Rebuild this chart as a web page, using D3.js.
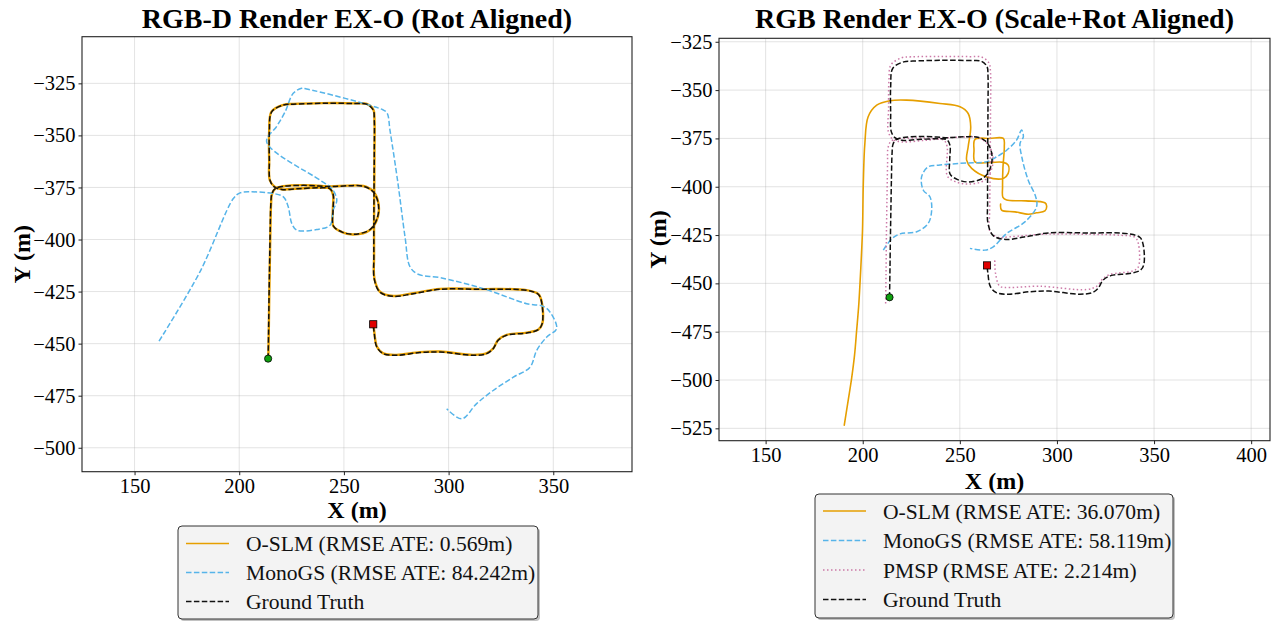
<!DOCTYPE html>
<html>
<head>
<meta charset="utf-8">
<script src="https://cdn.jsdelivr.net/npm/d3@7"></script>
<style>
  html, body { margin: 0; padding: 0; background: #fff; }
  svg { display: block; font-family: "Liberation Serif", "Times New Roman", serif; }
</style>
</head>
<body>
<script>
// ---- Trajectory data (X, Y in metres) ----
const groundTruth = [
  [213.8,-457.2],[214.0,-445],[214.2,-430],[214.5,-412],[214.8,-395],[215.1,-383],[215.6,-378],
  [217.2,-375.6],[221,-374.5],[230,-374.0],[238,-374.3],[244,-374.6],[252,-374.2],[259.3,-374.4],
  [264.0,-377.1],[266.4,-382.7],[266.1,-389.1],[262.5,-395.2],[254.5,-397.5],[248.9,-396.3],
  [245.0,-393.5],[244.8,-386],[244.9,-378.5],[243.2,-375.6],[238,-375.2],[228,-375.6],[220.3,-376.0],
  [216.6,-374.6],[214.7,-371.5],[214.4,-362],[214.4,-348],[215.5,-338.7],[221.1,-335.4],[225.8,-335.0],
  [240,-334.6],[255,-334.7],[260.9,-335.0],[264.0,-337.8],[264.5,-342.7],[264.5,-358],[264.4,-375],
  [264.3,-392],[264.3,-408],[264.5,-419],[267.2,-425.3],[273.6,-427.3],[283.1,-426.0],[295.9,-423.9],
  [315.0,-423.9],[337.3,-424.4],[342.8,-426.3],[344.4,-430.0],[344.7,-440.4],[342.8,-443.3],
  [337.3,-444.9],[327.7,-446.0],[323.7,-448.4],[321.3,-452.4],[318.2,-454.8],[311.8,-455.6],
  [295.9,-454.0],[286.3,-454.3],[275.2,-455.6],[268.8,-454.8],[265.7,-451.6],[264.5,-445.2],[264.0,-440.7]
];

// RGB-D run
const oslmRgbd = [
  [213.9,-457.0],[214.1,-445],[214.3,-430],[214.6,-412],[214.9,-395],[215.2,-383],[215.7,-378],
  [217.3,-375.5],[221,-374.4],[230,-373.9],[238,-374.2],[244,-374.5],[252,-374.1],[259.3,-374.3],
  [264.1,-377.0],[266.5,-382.7],[266.2,-389.1],[262.6,-395.3],[254.5,-397.6],[248.8,-396.3],
  [244.9,-393.5],[244.7,-386],[244.8,-378.5],[243.2,-375.5],[238,-375.1],[228,-375.5],[220.3,-375.9],
  [216.7,-374.5],[214.6,-371.5],[214.3,-362],[214.3,-348],[215.4,-338.6],[221.1,-335.3],[225.8,-334.9],
  [240,-334.5],[255,-334.6],[260.9,-334.9],[264.1,-337.7],[264.6,-342.7],[264.6,-358],[264.5,-375],
  [264.4,-392],[264.4,-408],[264.6,-419],[267.3,-425.2],[273.6,-427.1],[283.1,-425.8],[295.9,-423.7],
  [315.0,-423.8],[337.3,-424.3],[342.9,-426.2],[344.5,-430.0],[344.8,-440.3],[342.9,-443.2],
  [337.3,-444.7],[327.7,-445.8],[323.7,-448.2],[321.4,-452.2],[318.3,-454.6],[311.8,-455.4],
  [295.9,-453.8],[286.3,-454.1],[275.2,-455.4],[268.8,-454.7],[265.8,-451.5],[264.6,-445.2],[264.1,-440.8]
];
const monogsRgbd = [
  [161.7,-448.8],[181.3,-415.4],[197.2,-380.3],[200.4,-377.6],[205.2,-377.1],[216.3,-377.9],
  [221.1,-379.5],[223.4,-384.3],[225.1,-392.3],[227.5,-395.5],[237.0,-395.2],[243.4,-393.1],
  [244.9,-385.9],[246.6,-381.1],[244.2,-375.5],[238.6,-371.5],[213.1,-353.1],[218,-345.5],
  [221.9,-338.7],[225.8,-329.8],[229.8,-327.4],[232.2,-327.7],[268.8,-337.8],[270.7,-339.4],
  [272.0,-347.5],[275.6,-371.5],[279.2,-398.8],[281.6,-413.2],[285.5,-416.7],[295.9,-418.3],
  [316.6,-423.6],[337.3,-430.8],[345.2,-432.1],[348.4,-434.8],[351.6,-442.8],[346.9,-446.8],
  [342.1,-453.2],[338.9,-461.3],[330.9,-466.1],[321.3,-472.5],[313.4,-478.8],[306.3,-486.1],[299.1,-481.3]
];

// RGB run
const oslmRgb = [
  [190.5,-523.4],[192.6,-510],[194.3,-499],[195.8,-487],[196.9,-474],[197.9,-462],[198.6,-450],
  [199.4,-434],[199.9,-422],[200.3,-398.3],[201.1,-377.6],[202.8,-363.8],[207.2,-357.8],[214.0,-355.5],
  [222.6,-355.2],[239.8,-356.9],[250.1,-358.6],[254.3,-362.1],[255.6,-369.0],[254.3,-379.3],
  [253.5,-386.2],[256.1,-390.5],[263.8,-394.9],[272.4,-395.7],[274.9,-393.1],[274.9,-388.8],
  [272.4,-387.4],[265.5,-387.4],[257.8,-387.1],[257.3,-381.1],[257.8,-375.5],[265.5,-375.0],
  [272.4,-375.0],[272.9,-379.3],[272.2,-390],[272.0,-400],[272.2,-405.5],[274.1,-406.9],[284.0,-407.3],
  [293.8,-408.3],[294.7,-410.0],[293.8,-412.5],[289.5,-413.5],[285.2,-414.2],[278.4,-413.0],
  [271.5,-412.1],[271.0,-409]
];
const monogsRgb = [
  [210.6,-432.8],[214.9,-427.0],[219.2,-424.4],[227.8,-423.3],[233.7,-419.0],[235.5,-412.1],
  [234.6,-405.2],[231.2,-401.8],[230.3,-394.9],[233.7,-389.7],[239.8,-388.8],[250.1,-387.9],
  [256.9,-387.6],[263.8,-387.1],[269.0,-384.5],[274.1,-381.1],[279.2,-375.9],[281.8,-370.7],
  [282.7,-374.2],[281.0,-377.6],[282.0,-385],[285.2,-396.6],[289.0,-405],[289.5,-410.4],
  [283.5,-418.2],[274.1,-424.2],[267.2,-431.1],[262.9,-432.8],[255.2,-431.9]
];
const pmspRgb = [
  [211.8,-460.4],[212.0,-445],[212.2,-425],[212.5,-405],[212.8,-388],[213.0,-380],[214.5,-376.5],
  [218,-375.3],[228,-374.8],[238,-375.0],[245,-374.6],[253,-374.3],[259,-374.5],[264,-377.5],
  [266.8,-383],[266.6,-390],[263,-396.5],[254.5,-398.6],[248,-397.5],[243.6,-394.5],[243.4,-379],
  [241.5,-375.8],[232,-376],[220,-376.8],[215.5,-375.5],[213.2,-371.5],[213.3,-360],[213.5,-345],
  [214.5,-337],[220,-333.3],[225,-332.8],[240,-332.6],[255,-332.7],[261.5,-333],[265,-336],
  [265.8,-341],[265.8,-360],[265.7,-380],[265.5,-400],[265.3,-415],[265.0,-421.6],[266.4,-424.2],
  [269.8,-426.2],[275.8,-425.9],[294.7,-424.5],[315,-424.6],[332.4,-425.1],[340.2,-426.2],
  [341.9,-429.3],[341.9,-441.5],[339.3,-443.5],[327.3,-445.4],[323.8,-447.5],[320.4,-451.5],
  [315.3,-453.2],[291.2,-451.5],[275.8,-452.1],[270.6,-451.5],[268.4,-444.9],[268.0,-438.1]
];

// ---- Axis ticks and labels ----
const leftXTicks = [150, 200, 250, 300, 350];
const leftYTicks = [-325, -350, -375, -400, -425, -450, -475, -500];
const rightXTicks = [150, 200, 250, 300, 350, 400];
const rightYTicks = [-325, -350, -375, -400, -425, -450, -475, -500, -525];

const leftTitle = "RGB-D Render EX-O (Rot Aligned)";
const rightTitle = "RGB Render EX-O (Scale+Rot Aligned)";
const leftLegend = ["O-SLM (RMSE ATE: 0.569m)", "MonoGS (RMSE ATE: 84.242m)", "Ground Truth"];
const rightLegend = ["O-SLM (RMSE ATE: 36.070m)", "MonoGS (RMSE ATE: 58.119m)", "PMSP (RMSE ATE: 2.214m)", "Ground Truth"];

// ---- Styles ----
const STY = {
  oslm:   { color: "#E69F00", width: 1.6, dash: null },
  monogs: { color: "#56B4E9", width: 1.5, dash: "5.5,2.4" },
  pmsp:   { color: "#CC79A7", width: 1.5, dash: "1.5,2.5" },
  gt:     { color: "#111111", width: 1.5, dash: "5.5,2.4" }
};

const svg = d3.select("body").append("svg").attr("width", 1276).attr("height", 623);
const minus = d => (d < 0 ? "\u2212" : "") + Math.abs(d);

function panel(cfg) {
  const x = d3.scaleLinear().domain(cfg.xd).range([cfg.x0, cfg.x1]);
  const y = d3.scaleLinear().domain(cfg.yd).range([cfg.y0, cfg.y1]);
  const g = svg.append("g");
  const clipId = "clip" + cfg.id;
  svg.append("clipPath").attr("id", clipId).append("rect")
    .attr("x", cfg.x0).attr("y", cfg.y0).attr("width", cfg.x1 - cfg.x0).attr("height", cfg.y1 - cfg.y0);

  // grid
  g.append("g").selectAll("line").data(cfg.xt).join("line")
    .attr("x1", d => x(d)).attr("x2", d => x(d)).attr("y1", cfg.y0).attr("y2", cfg.y1)
    .attr("stroke", "#b0b0b0").attr("stroke-opacity", 0.35).attr("stroke-width", 1);
  g.append("g").selectAll("line").data(cfg.yt).join("line")
    .attr("y1", d => y(d)).attr("y2", d => y(d)).attr("x1", cfg.x0).attr("x2", cfg.x1)
    .attr("stroke", "#b0b0b0").attr("stroke-opacity", 0.35).attr("stroke-width", 1);

  // axes
  const ax = g.append("g").attr("transform", `translate(0,${cfg.y1})`)
    .call(d3.axisBottom(x).tickValues(cfg.xt).tickFormat(minus).tickSize(3.5).tickPadding(3));
  const ay = g.append("g").attr("transform", `translate(${cfg.x0},0)`)
    .call(d3.axisLeft(y).tickValues(cfg.yt).tickFormat(minus).tickSize(3.5).tickPadding(3));
  [ax, ay].forEach(a => {
    a.select(".domain").remove();
    a.selectAll("text").attr("font-family", "Liberation Serif").attr("font-size", 20.5).attr("fill", "#000");
    a.selectAll("line").attr("stroke", "#222");
  });

  // trajectories
  const line = d3.line().x(d => x(d[0])).y(d => y(d[1])).curve(d3.curveCatmullRom.alpha(0.5));
  const lines = g.append("g").attr("clip-path", `url(#${clipId})`);
  cfg.series.forEach(s => {
    lines.append("path").attr("d", line(s.data)).attr("fill", "none")
      .attr("stroke", s.style.color).attr("stroke-width", s.w || s.style.width)
      .attr("stroke-dasharray", s.style.dash).attr("stroke-linejoin", "round")
      .attr("stroke-linecap", s.style.dash ? "butt" : "round");
  });

  // start / end markers from ground truth
  const st = groundTruth[0], en = groundTruth[groundTruth.length - 1];
  g.append("circle").attr("cx", x(st[0])).attr("cy", y(st[1])).attr("r", 3.6)
    .attr("fill", "#10a010").attr("stroke", "#000").attr("stroke-width", 0.8);
  g.append("rect").attr("x", x(en[0]) - 3.6).attr("y", y(en[1]) - 3.6).attr("width", 7.2).attr("height", 7.2)
    .attr("fill", "#e00000").attr("stroke", "#000").attr("stroke-width", 0.8);

  // frame
  g.append("rect").attr("x", cfg.x0).attr("y", cfg.y0).attr("width", cfg.x1 - cfg.x0).attr("height", cfg.y1 - cfg.y0)
    .attr("fill", "none").attr("stroke", "#222").attr("stroke-width", 1.1);

  // titles & axis labels
  const cx = (cfg.x0 + cfg.x1) / 2;
  g.append("text").attr("x", cx).attr("y", 28).attr("text-anchor", "middle")
    .attr("font-weight", "bold").attr("font-size", 28).text(cfg.title);
  g.append("text").attr("x", cx).attr("y", cfg.xlabY).attr("text-anchor", "middle")
    .attr("font-weight", "bold").attr("font-size", 24).text("X (m)");
  g.append("text").attr("transform", `translate(${cfg.ylabX},${(cfg.y0 + cfg.y1) / 2}) rotate(-90)`)
    .attr("text-anchor", "middle").attr("font-weight", "bold").attr("font-size", 24).text("Y (m)");

  // legend
  const L = cfg.legend;
  const lg = svg.append("g");
  lg.append("rect").attr("x", L.x + 2).attr("y", L.y + 2).attr("width", L.w).attr("height", L.h).attr("rx", 4)
    .attr("fill", "#777").attr("opacity", 0.45);
  lg.append("rect").attr("x", L.x).attr("y", L.y).attr("width", L.w).attr("height", L.h).attr("rx", 4)
    .attr("fill", "#f3f3f3").attr("stroke", "#333").attr("stroke-width", 1);
  L.items.forEach((it, i) => {
    const yy = L.y + L.first + i * L.step;
    lg.append("line").attr("x1", L.x + 8).attr("x2", L.x + 51).attr("y1", yy).attr("y2", yy)
      .attr("stroke", it.style.color).attr("stroke-width", it.style.width)
      .attr("stroke-dasharray", it.style.dash);
    lg.append("text").attr("x", L.x + 68).attr("y", yy).attr("dy", "0.35em")
      .attr("font-size", 21.6).attr("fill", "#111").text(it.label);
  });
}

panel({
  id: "L", x0: 82, x1: 632, y0: 36.7, y1: 471.7, xd: [124.9, 387.6], yd: [-302.6, -511.5],
  xt: leftXTicks, yt: leftYTicks, title: leftTitle, xlabY: 518, ylabX: 30,
  series: [
    { data: oslmRgbd, style: STY.oslm, w: 2.4 },
    { data: monogsRgbd, style: STY.monogs },
    { data: groundTruth, style: STY.gt }
  ],
  legend: { x: 178, y: 526, w: 360, h: 93, first: 17.5, step: 29,
    items: [
      { label: leftLegend[0], style: STY.oslm },
      { label: leftLegend[1], style: STY.monogs },
      { label: leftLegend[2], style: STY.gt }
    ] }
});

panel({
  id: "R", x0: 719, x1: 1270, y0: 38.3, y1: 440.7, xd: [126, 409.7], yd: [-323.2, -531.4],
  xt: rightXTicks, yt: rightYTicks, title: rightTitle, xlabY: 489, ylabX: 666,
  series: [
    { data: oslmRgb, style: STY.oslm },
    { data: monogsRgb, style: STY.monogs },
    { data: pmspRgb, style: STY.pmsp },
    { data: groundTruth, style: STY.gt }
  ],
  legend: { x: 815, y: 494, w: 358, h: 124, first: 17, step: 29.5,
    items: [
      { label: rightLegend[0], style: STY.oslm },
      { label: rightLegend[1], style: STY.monogs },
      { label: rightLegend[2], style: STY.pmsp },
      { label: rightLegend[3], style: STY.gt }
    ] }
});
</script>
</body>
</html>
